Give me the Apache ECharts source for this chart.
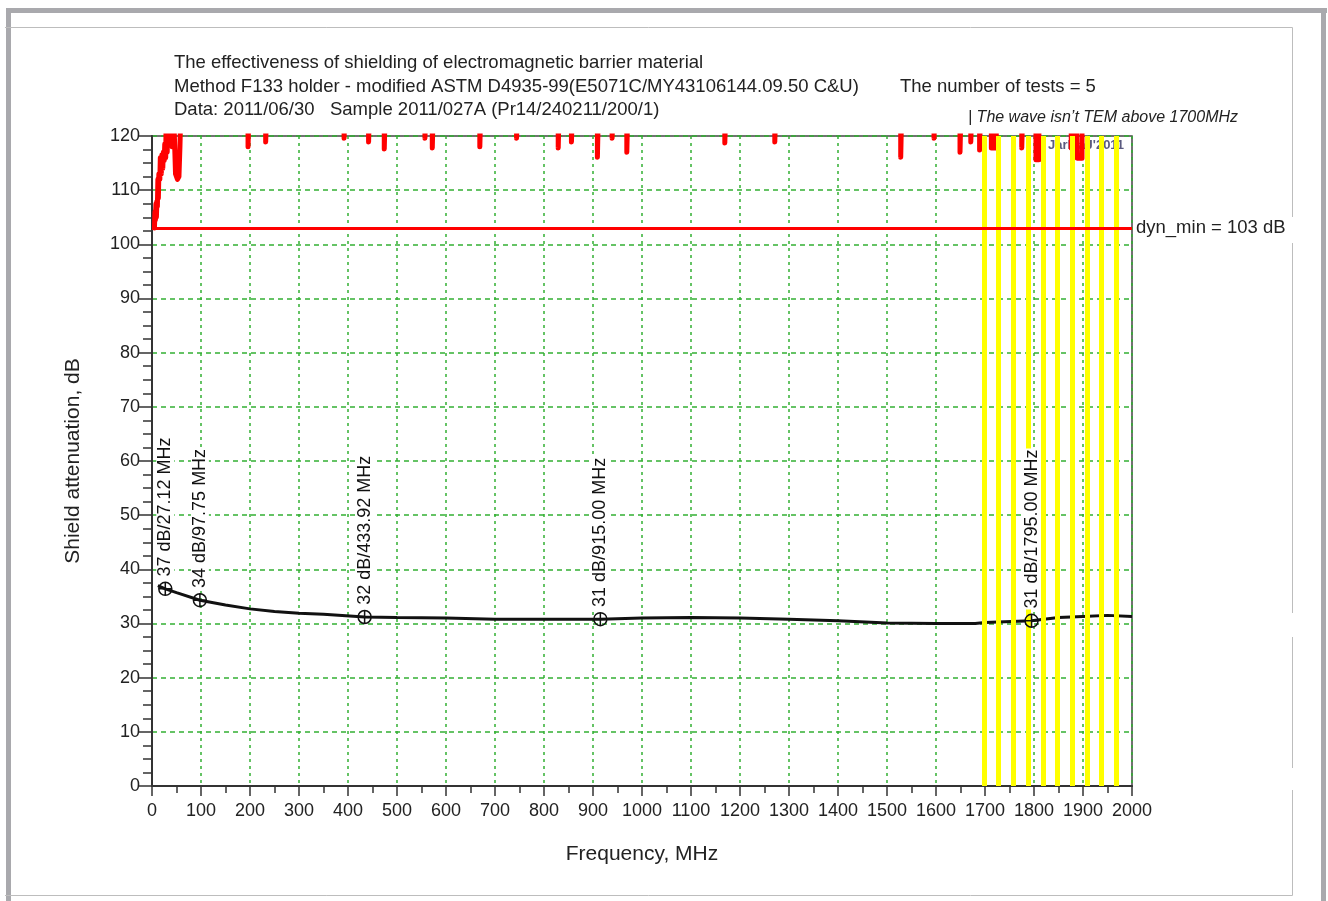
<!DOCTYPE html>
<html>
<head>
<meta charset="utf-8">
<script src="https://cdn.jsdelivr.net/npm/echarts@6/dist/echarts.min.js"></script>
<style>
html, body { margin: 0; padding: 0; background: #fff; }
#main { width: 1328px; height: 901px; }
</style>
</head>
<body>
<div id="main"></div>
<script>
// shielding effectiveness curve, MHz / dB
var seFreq = [12, 27.12, 50, 97.75, 150, 200, 250, 300, 350, 433.92, 500, 600, 700, 800, 915, 1000, 1100, 1200, 1300, 1400, 1500, 1600, 1680, 1700, 1795, 1850, 1900, 1950, 2000];
var seDb = [37.0, 36.4, 35.7, 34.3, 33.4, 32.7, 32.2, 31.9, 31.7, 31.2, 31.1, 31.0, 30.8, 30.8, 30.8, 31.0, 31.1, 31.0, 30.8, 30.5, 30.1, 30.0, 30.0, 30.2, 30.5, 31.1, 31.3, 31.5, 31.3];

// marked frequencies
var markFreq = [27.12, 97.75, 433.92, 915, 1795];
var markDb = [36.4, 34.3, 31.2, 30.8, 30.5];
var markText = ['37 dB/27.12 MHz', '34 dB/97.75 MHz', '32 dB/433.92 MHz', '31 dB/915.00 MHz', '31 dB/1795.00 MHz'];

// dynamic range trace (values above 120 are off scale)
var riseFreq = [5, 6, 7, 8, 9, 10, 11, 12, 13, 14, 16, 17, 19, 20, 22, 23, 25, 26, 28, 29, 31, 33, 35, 38, 41, 44, 46, 48, 52, 55, 57, 59, 62];
var riseDb = [103, 106, 104.5, 107.5, 105, 108, 107, 112, 108.5, 113, 112, 116, 113, 116.5, 114, 117, 115.5, 118.5, 116, 125, 117, 125, 119, 125, 118, 125, 125, 113, 112, 112.5, 118, 125, 125];
var spikeFrom = [196, 232, 392, 442, 474, 557, 572, 669, 744, 829, 856, 909, 939, 969, 1169, 1271, 1528, 1596, 1649, 1671, 1689, 1713, 1775, 1804, 1876, 1888];
var spikeTo = [198, 234, 394, 444, 476, 559, 574, 671, 746, 831, 858, 911, 941, 971, 1171, 1273, 1530, 1598, 1651, 1673, 1691, 1723, 1777, 1810, 1886, 1898];
var spikeDb = [118.0, 118.9, 119.6, 118.9, 117.6, 119.6, 117.8, 118.0, 119.6, 117.8, 118.9, 116.1, 119.6, 117.0, 118.7, 118.9, 116.1, 119.6, 117.0, 118.9, 117.4, 117.8, 117.8, 115.6, 117.8, 115.9];

// non-TEM resonance bands
var bandFreq = [1698, 1728, 1758, 1788, 1818, 1848, 1878, 1908, 1938, 1967];

// limit lines
var limitValue = [103, 30, 1];
var limitText = ['dyn_min = 103 dB', 'SE_min = 30 dB', 'diff_max = +1 dB'];

var redData = riseFreq.map(function (f, i) { return [f, riseDb[i]]; });
spikeFrom.forEach(function (f, i) {
    redData.push([f, 125], [f, spikeDb[i]], [spikeTo[i], spikeDb[i]], [spikeTo[i], 125]);
});
redData.push([2000, 125]);

var FONT = 'Liberation Sans, Arial, sans-serif';
var chartDom = document.getElementById('main');
var myChart = echarts.init(chartDom);
var option;

function titleText(text, left, top, extra) {
    var ts = { fontSize: 18.5, fontWeight: 'normal', color: '#222', fontFamily: FONT };
    for (var k in extra) ts[k] = extra[k];
    return { text: text, left: left, top: top, padding: 0, textStyle: ts };
}

var thin = { stroke: '#bdbdbd', lineWidth: 1 };
var band = { fill: '#a9a9ad' };

option = {
    animation: false,
    textStyle: { fontFamily: FONT },
    title: [
        titleText('The effectiveness of shielding of electromagnetic barrier material', 174, 53),
        titleText('Method F133 holder - modified ASTM D4935-99(E5071C/MY43106144.09.50 C&U)', 174, 77),
        titleText('The number of tests = 5', 900, 77),
        titleText('Data: 2011/06/30   Sample 2011/027A (Pr14/240211/200/1)', 174, 100),
        titleText('| The wave isn\u2019t TEM above 1700MHz', 968, 110, { fontSize: 16, fontStyle: 'italic' })
    ],
    graphic: [
        { type: 'rect', shape: { x: 6, y: 8, width: 1321, height: 5 }, style: band, silent: true },
        { type: 'rect', shape: { x: 6, y: 8, width: 5, height: 893 }, style: band, silent: true },
        { type: 'rect', shape: { x: 1321, y: 8, width: 5, height: 893 }, style: band, silent: true },
        { type: 'line', shape: { x1: 5, y1: 27.5, x2: 1292.5, y2: 27.5 }, style: thin, silent: true },
        { type: 'line', shape: { x1: 5, y1: 895.5, x2: 1292.5, y2: 895.5 }, style: thin, silent: true },
        { type: 'line', shape: { x1: 1292.5, y1: 27.5, x2: 1292.5, y2: 217 }, style: thin, silent: true },
        { type: 'line', shape: { x1: 1292.5, y1: 243, x2: 1292.5, y2: 613 }, style: thin, silent: true },
        { type: 'line', shape: { x1: 1292.5, y1: 637, x2: 1292.5, y2: 768 }, style: thin, silent: true },
        { type: 'line', shape: { x1: 1292.5, y1: 790, x2: 1292.5, y2: 895.5 }, style: thin, silent: true },
        {
            type: 'text', left: 1048, top: 139, z: 2, silent: true,
            style: { text: 'JarMaJ\'2011', fill: '#5b5b80', font: 'bold 13px ' + FONT }
        }
    ],
    grid: {
        left: 152, right: 196, top: 136, bottom: 115,
        show: true, borderColor: '#444', borderWidth: 1.5
    },
    xAxis: {
        type: 'value', min: 0, max: 2000, interval: 100,
        name: 'Frequency, MHz', nameLocation: 'middle', nameGap: 58,
        nameTextStyle: { fontSize: 21, color: '#222' },
        axisLine: { onZero: false, lineStyle: { color: '#333', width: 2 } },
        axisTick: { show: true, length: 10, lineStyle: { color: '#333', width: 1.5 } },
        minorTick: { show: true, splitNumber: 2, length: 7, lineStyle: { color: '#333', width: 1.5 } },
        axisLabel: { fontSize: 18, color: '#222', margin: 16, formatter: function (v) { return String(v); } },
        splitLine: { show: true, lineStyle: { color: '#33b033', width: 1.5, type: [3, 4] } }
    },
    yAxis: {
        type: 'value', min: 0, max: 120, interval: 10,
        name: 'Shield attenuation, dB', nameLocation: 'middle', nameGap: 68,
        nameTextStyle: { fontSize: 21, color: '#222' },
        axisLine: { show: true, onZero: false, lineStyle: { color: '#333', width: 2 } },
        axisTick: { show: true, length: 13, lineStyle: { color: '#333', width: 1.5 } },
        minorTick: { show: true, splitNumber: 4, length: 9, lineStyle: { color: '#333', width: 1.5 } },
        axisLabel: { fontSize: 18, color: '#222', margin: 12, formatter: function (v) { return String(v); } },
        splitLine: { show: true, lineStyle: { color: '#33b033', width: 1.5, type: [5, 4] } }
    },
    series: [
        {
            name: 'bands', type: 'line', data: [], z: 1, silent: true,
            markLine: {
                silent: true, symbol: ['none', 'none'], label: { show: false },
                lineStyle: { color: '#ffff00', width: 5, type: 'solid' },
                data: bandFreq.map(function (f) { return { xAxis: f }; })
            }
        },
        {
            name: 'dynamic range', type: 'line', data: redData, z: 3,
            showSymbol: false, symbol: 'none', silent: true,
            lineStyle: { color: '#ff0000', width: 5, cap: 'round', join: 'round' },
            markLine: {
                silent: true, symbol: ['none', 'none'],
                label: { show: true, position: 'end', distance: 4, fontSize: 18.5, color: '#222' },
                data: limitValue.map(function (v, i) {
                    return {
                        yAxis: v,
                        label: { formatter: limitText[i] },
                        lineStyle: i === 0 ? { color: '#ff0000', width: 3, type: 'solid' } : { opacity: 0 }
                    };
                })
            }
        },
        {
            name: 'SE', type: 'line', z: 4, silent: true,
            data: seFreq.map(function (f, i) { return [f, seDb[i]]; }),
            showSymbol: false, symbol: 'none',
            lineStyle: { color: '#111', width: 3 }
        },
        {
            name: 'markers', type: 'scatter', z: 5, silent: true,
            data: markFreq.map(function (f, i) { return { name: markText[i], value: [f, markDb[i]] }; }),
            symbol: 'path://M0,-6A6,6,0,1,1,0,6A6,6,0,1,1,0,-6ZM-6,0L6,0M0,-6L0,6',
            symbolSize: 13,
            itemStyle: { color: 'rgba(0,0,0,0)', borderColor: '#111', borderWidth: 1.5, opacity: 1 },
            label: {
                show: true, position: 'top', rotate: 90, align: 'left', verticalAlign: 'middle',
                distance: 4, fontSize: 18, color: '#111', opacity: 1, backgroundColor: '#fff', padding: [0, 1],
                formatter: '{b}'
            }
        }
    ]
};

option && myChart.setOption(option);
</script>
</body>
</html>
